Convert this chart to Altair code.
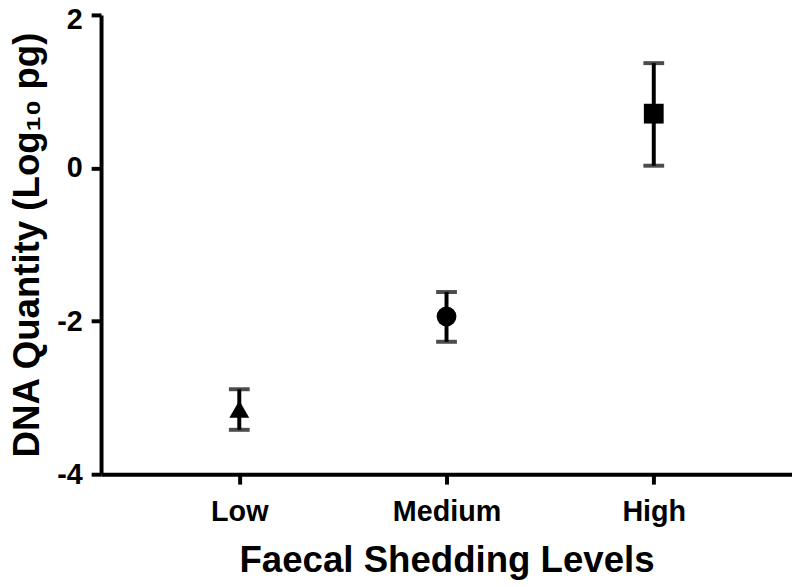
import altair as alt
import pandas as pd

categories = ["Low", "Medium", "High"]
means = [-3.15, -1.94, 0.71]
lower = [-3.42, -2.27, 0.03]
upper = [-2.89, -1.62, 1.37]
shapes = ["triangle-up", "circle", "square"]
y_ticks = [-4, -2, 0, 2]

df = pd.DataFrame({"level": categories, "mean": means, "lo": lower, "hi": upper})

FONT = "Liberation Sans"

xenc = alt.X(
    "level:N",
    sort=categories,
    scale=alt.Scale(type="point", domain=categories, padding=0.667),
    axis=alt.Axis(
        title="Faecal Shedding Levels",
        labelAngle=0,
        labelPadding=14,
        titlePadding=16,
    ),
)
yscale = alt.Scale(domain=[-4, 2], nice=False, zero=False)
yaxis = alt.Axis(
    title="DNA Quantity (Log₁₀ pg)",
    values=y_ticks,
    labelPadding=9,
    titlePadding=10,
    labelExpr="'' + datum.value",
    labelOffset={"condition": {"test": "datum.value == 2", "value": 5}, "value": 0},
)

base = alt.Chart(df)

rules = base.mark_rule(color="black", strokeWidth=4).encode(
    x=xenc,
    y=alt.Y("lo:Q", scale=yscale, axis=yaxis),
    y2="hi:Q",
)
caps_lo = base.mark_tick(color="black", thickness=4, size=21).encode(
    x=xenc, y=alt.Y("lo:Q", scale=yscale, axis=yaxis)
)
caps_hi = base.mark_tick(color="black", thickness=4, size=21).encode(
    x=xenc, y=alt.Y("hi:Q", scale=yscale, axis=yaxis)
)
points = base.mark_point(filled=True, color="black", opacity=1, size=400).encode(
    x=xenc,
    y=alt.Y("mean:Q", scale=yscale, axis=yaxis),
    shape=alt.Shape("level:N", scale=alt.Scale(domain=categories, range=shapes), legend=None),
)

chart = (
    alt.layer(rules, caps_lo, caps_hi, points)
    .properties(
        width=698,
        height=464,
        autosize=alt.AutoSizeParams(type="none"),
        padding={"left": 94, "top": 4, "right": 0, "bottom": 115},
    )
    .configure_view(stroke=None)
    .configure_axis(
        grid=False,
        domainColor="black",
        domainWidth=4,
        tickColor="black",
        tickWidth=4,
        tickSize=10,
        labelFont=FONT,
        labelFontWeight="bold",
        labelFontSize=29,
        labelColor="black",
        titleFont=FONT,
        titleFontWeight="bold",
        titleFontSize=37,
        titleColor="black",
    )
)

chart.save("out.html", embed_options={"renderer": "svg", "actions": False})
